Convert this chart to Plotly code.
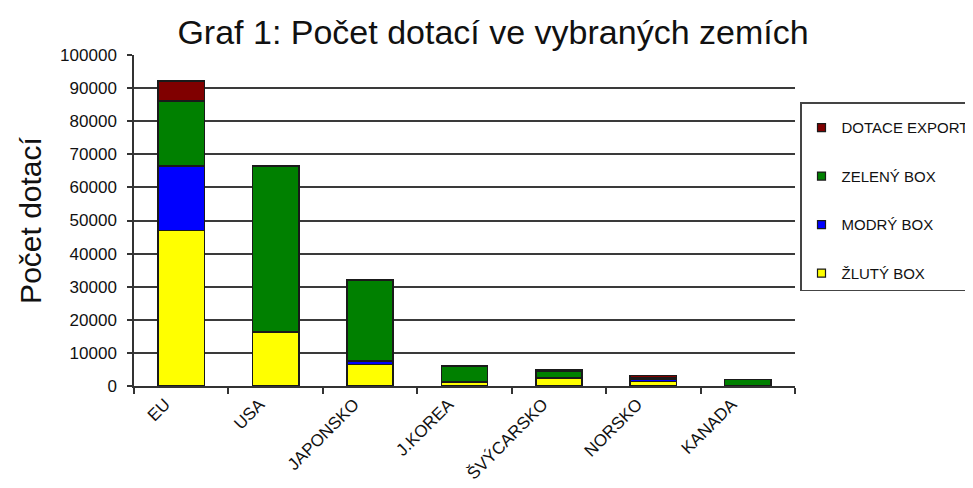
import plotly.graph_objects as go

categories = ["EU", "USA", "JAPONSKO", "J.KOREA", "ŠVÝCARSKO", "NORSKO", "KANADA"]
zluty_box = [47000, 16300, 6500, 1200, 2400, 1300, 200]
modry_box = [19500, 0, 1000, 0, 0, 800, 0]
zeleny_box = [19600, 50200, 24500, 4800, 2100, 300, 1800]
dotace_exportu = [6100, 0, 0, 0, 400, 700, 0]

series = [
    ("ŽLUTÝ BOX", zluty_box, "#FFFF00"),
    ("MODRÝ BOX", modry_box, "#0000FF"),
    ("ZELENÝ BOX", zeleny_box, "#008000"),
    ("DOTACE EXPORTU", dotace_exportu, "#800000"),
]

y_ticks = list(range(0, 100001, 10000))

font_family = "Liberation Sans, Arial, sans-serif"

fig = go.Figure()
for name, vals, color in series:
    fig.add_trace(go.Bar(
        x=categories, y=vals, name=name, showlegend=False,
        marker=dict(color=color, line=dict(color="#1a1a1a", width=1.5)),
    ))
for name, vals, color in reversed(series):
    fig.add_trace(go.Scatter(
        x=[None], y=[None], mode="markers", name=name,
        legendgroup=name,
        marker=dict(symbol="square", size=8, color=color,
                    line=dict(color="#1a1a1a", width=1.2)),
    ))

# page has an 8px body margin; coordinates below compensate for it
fig.update_layout(
    width=973, height=488,
    barmode="stack",
    bargap=0.51,
    plot_bgcolor="white",
    paper_bgcolor="white",
    margin=dict(l=126, r=186, t=47, b=110, autoexpand=False),
    font=dict(family=font_family, color="#111"),
    title=dict(
        text="Graf 1: Počet dotací ve vybraných zemích",
        x=485 / 973, xref="container", xanchor="center",
        y=1 - 24 / 488, yref="container", yanchor="middle",
        font=dict(size=34, color="#111", family=font_family),
    ),
    xaxis=dict(
        type="category",
        tickson="boundaries",
        ticks="outside", ticklen=6, tickwidth=1.5, tickcolor="#333",
        showline=True, linecolor="#333", linewidth=1.5,
        tickangle=-45,
        ticklabelshift=-16,
        tickfont=dict(size=17, color="#111"),
        showgrid=False,
    ),
    yaxis=dict(
        range=[0, 100000],
        tickvals=y_ticks,
        ticktext=[str(v) for v in y_ticks],
        ticks="outside", ticklen=5, tickwidth=1.5, tickcolor="#333",
        ticklabelstandoff=7,
        showline=True, linecolor="#333", linewidth=1.5,
        showgrid=True, gridcolor="#3a3a3a", gridwidth=1.5,
        zeroline=False,
        tickfont=dict(size=17, color="#111"),
        title=dict(text="Počet dotací", font=dict(size=30, color="#111"), standoff=10),
    ),
    legend=dict(
        x=(800 - 134) / 661, xanchor="left",
        y=(386 - 102) / 331, yanchor="top",
        traceorder="grouped",
        tracegroupgap=26,
        title=dict(text=" ", font=dict(size=6)),
        bordercolor="#444", borderwidth=1.5,
        bgcolor="white",
        font=dict(size=15, color="#111"),
    ),
)

fig.write_html("out.html")
